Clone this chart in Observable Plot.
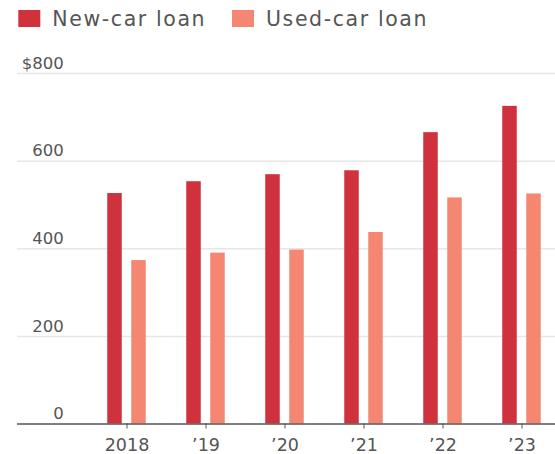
<!DOCTYPE html>
<html><head><meta charset="utf-8">
<script src="https://cdn.jsdelivr.net/npm/d3@7"></script>
<script src="https://cdn.jsdelivr.net/npm/@observablehq/plot@0.6"></script>
<style>
body{margin:0;background:#fff;font-family:"DejaVu Sans",sans-serif;overflow:hidden;}
svg{display:block;}
</style></head><body>
<div id="chart"></div>
<script>
const years = ["2018","2019","2020","2021","2022","2023"];
const yearLabels = ["2018","\u201919","\u201920","\u201921","\u201922","\u201923"];
const newCar = [526, 553, 569, 578, 665, 725];
const usedCar = [373, 390, 397, 437, 516, 525];
const seriesNames = ["New-car loan","Used-car loan"];
const seriesColors = ["#cf313d","#f48672"];
const yTicks = [0, 200, 400, 600, 800];
const yTickLabels = ["0", "200", "400", "600", "$800"];

const data = years.flatMap((y, i) => [
  {year: y, series: seriesNames[0], value: newCar[i]},
  {year: y, series: seriesNames[1], value: usedCar[i]}
]);

// Legend
const legend = d3.create("svg").attr("width", 555).attr("height", 40);
const lx = [18.3, 232];
seriesNames.forEach((name, i) => {
  legend.append("rect").attr("x", lx[i]).attr("y", 10).attr("width", 22).attr("height", 17).attr("fill", seriesColors[i]);
  legend.append("text").attr("x", lx[i] + 34).attr("y", 26)
    .attr("font-family", "DejaVu Sans").attr("font-size", 20.5).attr("letter-spacing", 1.6)
    .attr("fill", "#555").text(name);
});

const plot = Plot.plot({
  width: 555,
  height: 414,
  marginTop: 33,
  marginBottom: 30.5,
  marginLeft: 86.35,
  marginRight: -7.15,
  x: {domain: years, padding: 0, axis: null},
  y: {domain: [0, 800], axis: null},
  color: {domain: seriesNames, range: seriesColors},
  style: {fontFamily: "DejaVu Sans", fontSize: "16px", color: "#555", background: "#fff", overflow: "visible"},
  marks: [
    Plot.ruleY(yTicks.filter(d => d > 0), {stroke: "#e6e6e6", strokeWidth: 1.5, insetLeft: -69.35, insetRight: 7.15}),
    Plot.barY(data.filter(d => d.series === seriesNames[0]), {x: "year", y: "value", fill: "series", insetLeft: 32.25, insetRight: 32.25, dx: -12}),
    Plot.barY(data.filter(d => d.series === seriesNames[1]), {x: "year", y: "value", fill: "series", insetLeft: 32.25, insetRight: 32.25, dx: 12}),
    Plot.ruleY([0], {stroke: "#555", strokeWidth: 1.6, insetLeft: -69.35, insetRight: 7.15}),
    Plot.axisX({tickSize: 5, tickPadding: 10, fontSize: 17.5, color: "#555", label: null,
      tickFormat: d => yearLabels[years.indexOf(d)]}),
    Plot.text(yTicks, {y: d => d, text: (d, i) => yTickLabels[i], frameAnchor: "left", dx: -23, dy: -10,
      textAnchor: "end", fontSize: 16.5, fill: "#555"})
  ]
});

const chart = document.getElementById("chart");
chart.appendChild(legend.node());
chart.appendChild(plot);
</script>
</body></html>
